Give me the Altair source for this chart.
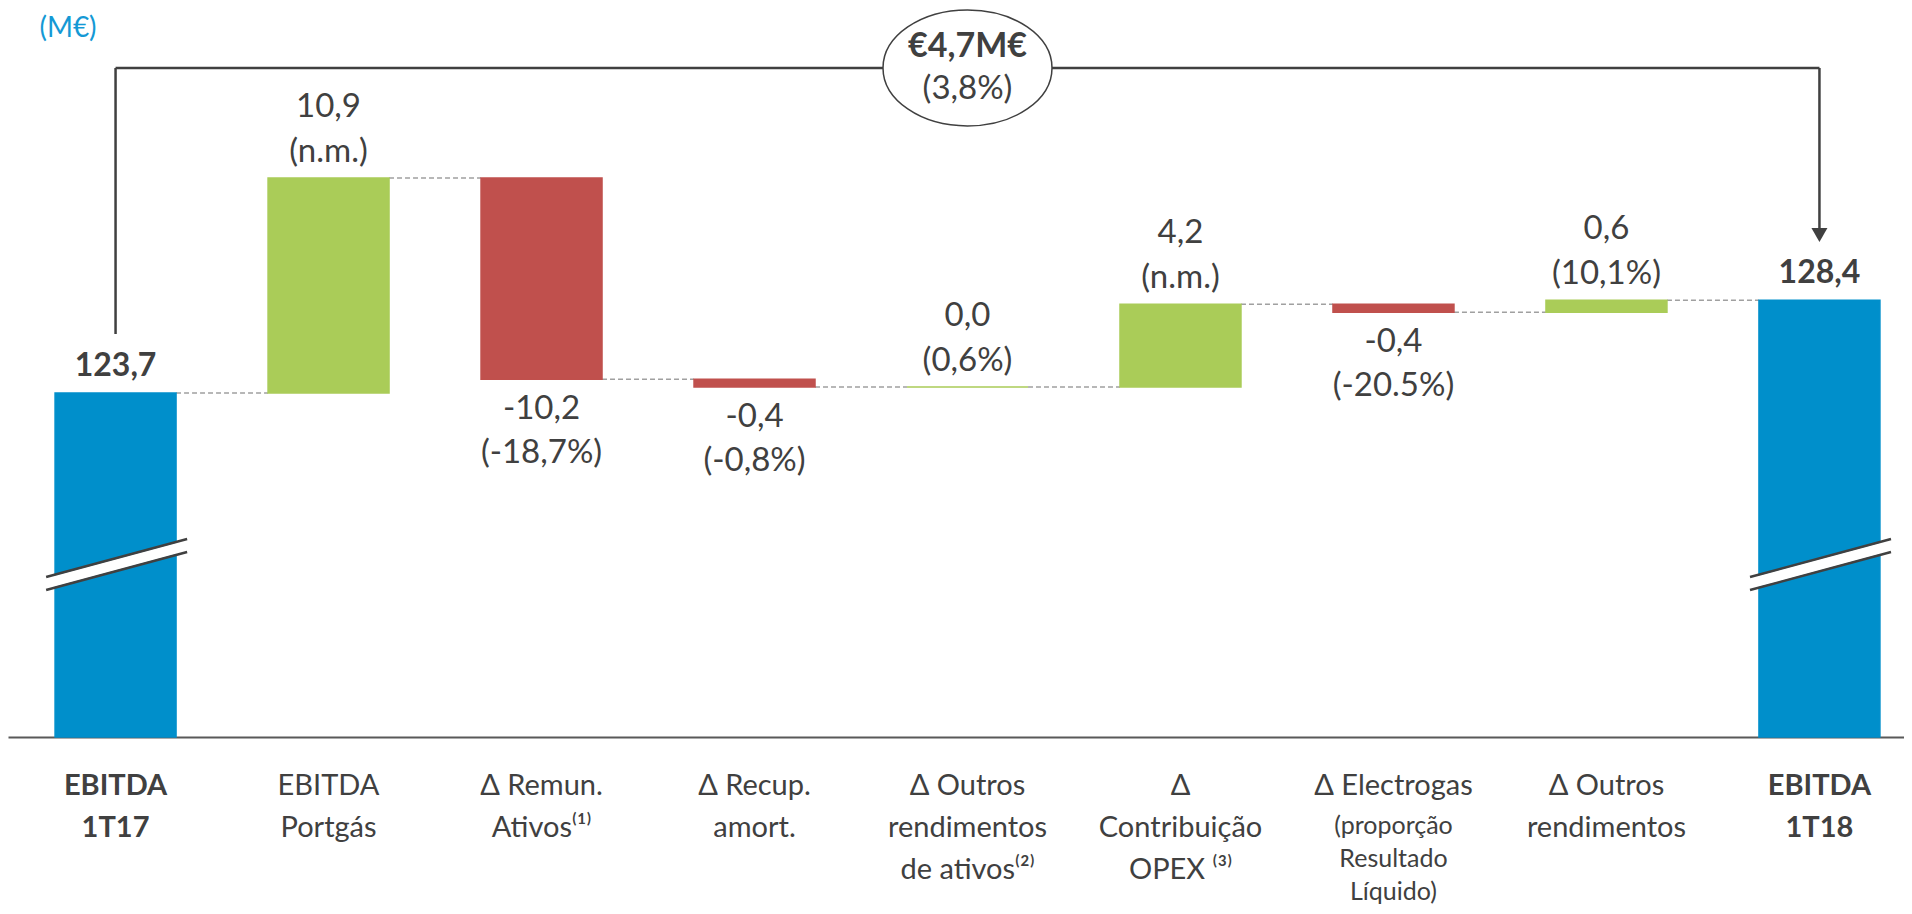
import altair as alt
import pandas as pd

# ---------------- data ----------------
categories = ["EBITDA 1T17", "EBITDA Portgás", "Δ Remun. Ativos", "Δ Recup. amort.",
              "Δ Outros rendimentos de ativos", "Δ Contribuição OPEX", "Δ Electrogas",
              "Δ Outros rendimentos", "EBITDA 1T18"]
cat_lines = ["EBITDA\n1T17", "EBITDA\nPortgás", "Δ Remun.\nAtivos⁽¹⁾", "Δ Recup.\namort.",
             "Δ Outros\nrendimentos\nde ativos⁽²⁾", "Δ\nContribuição\nOPEX ⁽³⁾", "Δ Electrogas",
             "Δ Outros\nrendimentos", "EBITDA\n1T18"]
electrogas_note = "(proporção\nResultado\nLíquido)"
totals = [123.7, 128.4]
total_labels = ["123,7", "128,4"]
deltas = [10.9, -10.2, -0.4, 0.0, 4.2, -0.4, 0.6]
delta_labels = ["10,9", "-10,2", "-0,4", "0,0", "4,2", "-0,4", "0,6"]
delta_pcts = ["(n.m.)", "(-18,7%)", "(-0,8%)", "(0,6%)", "(n.m.)", "(-20.5%)", "(10,1%)"]
change_value = "€4,7M€"
change_pct = "(3,8%)"
title_text = "EBITDA"
unit_text = "(M€)"

# ---------------- styling / layout ----------------
BLUE = "#008FCB"
GREEN = "#AACC58"
RED = "#C0504D"
TEXT = "#404040"
UNIT_BLUE = "#1499D5"
FONT = "Lato"

W, H, PAD_B = 1896, 729, 169
X_DOMAIN = [-0.505, 8.397]
Y_DOMAIN = [106.26, 143.22]
HW = 0.284            # half bar width (category units)
BRACKET_Y = 140.18
LEFT_LEG_END = 126.69
ARROW_Y = 131.71

# ---------------- tables ----------------
bars = []
bars.append(dict(idx=0, start=0.0, end=totals[0], color=BLUE, l1=total_labels[0], l2="", kind="total"))
cum = totals[0]
for i, d in enumerate(deltas):
    s = cum
    cum = round(cum + d, 2)
    bars.append(dict(idx=i + 1, start=s, end=cum, color=GREEN if d >= 0 else RED,
                     l1=delta_labels[i], l2=delta_pcts[i], kind="up" if d >= 0 else "down"))
bars.append(dict(idx=8, start=0.0, end=totals[1], color=BLUE, l1=total_labels[1], l2="", kind="total"))
bars = pd.DataFrame(bars)
bars["x0"] = bars["idx"] - HW
bars["x1"] = bars["idx"] + HW

conn = pd.DataFrame([dict(xa=i + HW, xb=i + 1 - HW, y=bars["end"][i]) for i in range(8)])

cats = pd.DataFrame(dict(idx=list(range(9)), text=cat_lines,
                         bold=[i in (0, 8) for i in range(9)]))

brk = []
for i in (0, 8):
    brk.append(dict(part="white", x=i - 0.326, x2=i + 0.336, y=114.04, y2=115.97))
    brk.append(dict(part="line", x=i - 0.326, x2=i + 0.336, y=114.37, y2=116.30))
    brk.append(dict(part="line", x=i - 0.326, x2=i + 0.336, y=113.71, y2=115.64))
brk = pd.DataFrame(brk)

bracket = pd.DataFrame([
    dict(x=0, x2=0, y=LEFT_LEG_END, y2=BRACKET_Y),
    dict(x=0, x2=8, y=BRACKET_Y, y2=BRACKET_Y),
    dict(x=8, x2=8, y=BRACKET_Y, y2=ARROW_Y),
])
arrow = pd.DataFrame([dict(x=8, y=ARROW_Y)])
bubble = pd.DataFrame([dict(x=4, y=BRACKET_Y, t1=change_value, t2=change_pct)])

# ---------------- encodings ----------------
xscale = alt.Scale(domain=X_DOMAIN, nice=False, zero=False)
yscale = alt.Scale(domain=Y_DOMAIN, nice=False, zero=False, clamp=True)
xaxis = alt.Axis(labels=False, ticks=False, grid=False, title=None,
                 domainColor="#595959", domainWidth=2)


def X(f):
    return alt.X(f"{f}:Q", scale=xscale, axis=xaxis)


def Y(f):
    return alt.Y(f"{f}:Q", scale=yscale, axis=None)


base = alt.Chart(bars)

connectors = alt.Chart(conn).mark_rule(color="#A0A0A0", strokeWidth=1.5, strokeDash=[5, 3]).encode(
    x=X("xa"), x2="xb", y=Y("y"))

bar_layer = base.mark_bar(strokeWidth=1.5).encode(
    x=X("x0"), x2="x1", y=Y("start"), y2="end",
    color=alt.Color("color:N", scale=None), stroke=alt.Stroke("color:N", scale=None))

brk_white = alt.Chart(brk).transform_filter("datum.part == 'white'").mark_rule(
    color="white", strokeWidth=11).encode(x=X("x"), x2="x2", y=Y("y"), y2="y2")
brk_lines = alt.Chart(brk).transform_filter("datum.part == 'line'").mark_rule(
    color=TEXT, strokeWidth=2.5).encode(x=X("x"), x2="x2", y=Y("y"), y2="y2")

bracket_layer = alt.Chart(bracket).mark_rule(color=TEXT, strokeWidth=2.5).encode(
    x=X("x"), x2="x2", y=Y("y"), y2="y2")
arrow_layer = alt.Chart(arrow).mark_point(shape="triangle-down", size=256, filled=True,
                                          color=TEXT, opacity=1).encode(x=X("x"), y=Y("y"))
ellipse = alt.Chart(bubble).mark_point(
    shape="M-1,0 A1,0.686 0 1,1 1,0 A1,0.686 0 1,1 -1,0 Z", size=28561,
    filled=True, fill="white", stroke=TEXT, strokeWidth=1.5, opacity=1).encode(x=X("x"), y=Y("y"))
bubble_t1 = alt.Chart(bubble).mark_text(font=FONT, fontSize=34, fontWeight="bold", color=TEXT,
                                        baseline="middle", dy=-21).encode(
    x=X("x"), y=Y("y"), text="t1:N")
bubble_t2 = alt.Chart(bubble).mark_text(font=FONT, fontSize=33, color=TEXT,
                                        baseline="middle", dy=21).encode(
    x=X("x"), y=Y("y"), text="t2:N")

txt = dict(font=FONT, fontSize=33, color=TEXT, baseline="middle", align="center")
tot_lab = base.transform_filter("datum.kind == 'total'").mark_text(
    **{**txt, "fontSize": 32, "fontWeight": "bold"}, dy=-27).encode(x=X("idx"), y=Y("end"), text="l1:N")
up1 = base.transform_filter("datum.kind == 'up'").mark_text(**txt, dy=-71).encode(
    x=X("idx"), y=Y("end"), text="l1:N")
up2 = base.transform_filter("datum.kind == 'up'").mark_text(**txt, dy=-26).encode(
    x=X("idx"), y=Y("end"), text="l2:N")
dn1 = base.transform_filter("datum.kind == 'down'").mark_text(**txt, dy=30).encode(
    x=X("idx"), y=Y("end"), text="l1:N")
dn2 = base.transform_filter("datum.kind == 'down'").mark_text(**txt, dy=74).encode(
    x=X("idx"), y=Y("end"), text="l2:N")

cat_txt = dict(font=FONT, fontSize=29, color=TEXT, baseline="alphabetic", align="center",
               lineBreak="\n", lineHeight=42)
cat_norm = alt.Chart(cats).transform_filter("!datum.bold").mark_text(**cat_txt).encode(
    x=X("idx"), y=alt.value(787), text="text:N")
cat_bold = alt.Chart(cats).transform_filter("datum.bold").mark_text(
    **cat_txt, fontWeight="bold").encode(x=X("idx"), y=alt.value(787), text="text:N")
note = alt.Chart(pd.DataFrame([dict(idx=6, text=electrogas_note)])).mark_text(
    font=FONT, fontSize=25, color=TEXT, baseline="alphabetic", align="center",
    lineBreak="\n", lineHeight=33).encode(x=X("idx"), y=alt.value(826), text="text:N")

head = pd.DataFrame([dict(t=unit_text, title=title_text)])
unit = alt.Chart(head).mark_text(font=FONT, fontSize=28, color=UNIT_BLUE, align="center",
                                 baseline="middle").encode(
    x=alt.value(60), y=alt.value(21), text="t:N")
title = alt.Chart(head).mark_text(font=FONT, fontSize=40, fontWeight="bold", color=UNIT_BLUE,
                                  align="left", baseline="bottom").encode(
    x=alt.value(32), y=alt.value(-6), text="title:N")

chart = alt.layer(
    connectors, bar_layer, brk_white, brk_lines, bracket_layer, arrow_layer, ellipse,
    bubble_t1, bubble_t2, tot_lab, up1, up2, dn1, dn2, cat_norm, cat_bold, note, unit, title
).properties(
    width=W, height=H,
    autosize=alt.AutoSizeParams(type="none"),
    padding={"left": 0, "top": 0, "right": 0, "bottom": PAD_B},
    background="white",
).configure_view(stroke=None)

chart.save("out.html", embed_options={"renderer": "svg", "actions": False})
